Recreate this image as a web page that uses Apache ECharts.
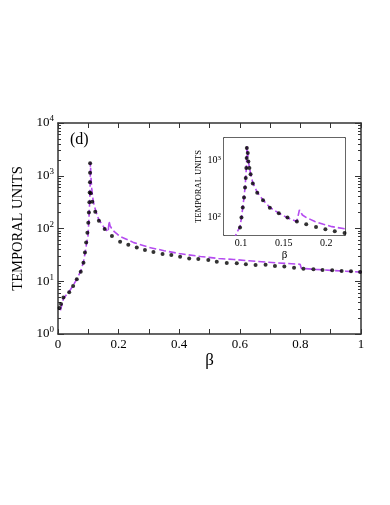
<!DOCTYPE html>
<html>
<head>
<meta charset="utf-8">
<script src="https://cdn.jsdelivr.net/npm/echarts@6.0.0/dist/echarts.min.js"></script>
<style>
  html, body { margin: 0; padding: 0; background: #fff; }
  #chart { width: 390px; height: 505px; }
</style>
</head>
<body>
<div id="chart"></div>
<script>
// simulation points (black dots), main panel
const mainDotsX = [0.005, 0.010, 0.018, 0.037, 0.050, 0.062, 0.075, 0.084, 0.089, 0.093, 0.097, 0.100, 0.102, 0.1035, 0.1045, 0.1055, 0.1058, 0.106, 0.108, 0.113, 0.123, 0.135, 0.154, 0.178, 0.205, 0.232, 0.26, 0.287, 0.315, 0.345, 0.374, 0.403, 0.433, 0.463, 0.496, 0.524, 0.557, 0.59, 0.62, 0.652, 0.685, 0.716, 0.747, 0.779, 0.81, 0.843, 0.873, 0.905, 0.936, 0.967, 0.997]
const mainDotsY = [3.1, 3.7, 4.9, 6.2, 8.1, 10.9, 15.2, 22.5, 35, 54, 83, 129, 200, 316, 480, 755, 1140, 1730, 465, 320, 208, 141, 98, 72, 56, 49, 43.5, 39, 36, 33, 31.5, 29, 27, 26.4, 25.3, 23.5, 22.3, 21.9, 21, 20.4, 20.5, 19.5, 19, 18.1, 17.3, 16.8, 16.3, 16.1, 15.6, 15.4, 15]

// simulation points, inset (zoom around the peak)
const insetDotsX = [0.0988, 0.1005, 0.102, 0.1035, 0.1047, 0.1055, 0.1062, 0.1066, 0.1068, 0.1079, 0.1086, 0.1098, 0.1112, 0.1138, 0.119, 0.1258, 0.1338, 0.1443, 0.1545, 0.1655, 0.1765, 0.188, 0.199, 0.21, 0.2215]
const insetDotsY = [68, 101, 151, 228, 341, 497, 744, 1115, 1670, 1365, 973, 744, 580, 400, 275, 203, 150, 120, 101, 86, 77, 69, 63, 58, 54]

// theory curve (purple dashed)
const lineX = [0.008, 0.018, 0.037, 0.05, 0.062, 0.075, 0.084, 0.09, 0.095, 0.0988, 0.1005, 0.102, 0.1035, 0.1047, 0.1055, 0.1062, 0.1067, 0.1069, 0.1076, 0.1086, 0.1098, 0.1115, 0.1138, 0.119, 0.1258, 0.1338, 0.1443, 0.1545, 0.1655, 0.1675, 0.1685, 0.172, 0.1767, 0.1867, 0.1967, 0.2067, 0.222, 0.25, 0.3, 0.35, 0.4, 0.47, 0.53, 0.58, 0.63, 0.69, 0.75, 0.799, 0.803, 0.85, 0.9, 0.95, 1.0]
const lineY = [2.8, 4.7, 6.4, 8.3, 11, 15.5, 23, 36, 55, 70, 101, 151, 228, 341, 497, 744, 1115, 1800, 1450, 1000, 760, 570, 410, 280, 205, 152, 121, 100, 86, 84, 138, 112, 101, 86, 77, 70, 64, 54, 44, 38, 33.5, 29.5, 27, 25.8, 24.5, 23, 21.8, 21, 17.6, 16.8, 16.1, 15.5, 14.9]

// tick positions / labels
const mainXLabels = [0, 0.2, 0.4, 0.6, 0.8, 1]
const mainXTicks = [0, 0.1, 0.2, 0.3, 0.4, 0.5, 0.6, 0.7, 0.8, 0.9, 1]
const mainYMajor = [1, 10, 100, 1000, 10000]
const insetXLabels = [0.1, 0.15, 0.2]
const insetYMajor = [100, 1000]

const zip = (xs, ys) => xs.map((x, i) => [x, ys[i]])

// 2..9 minor ticks of a log axis
function logMinor(lo, hi) {
  let out = []
  for (let d = 1; d < 1e5; d *= 10) {
    for (let k = 2; k <= 9; k++) {
      let v = k * d
      if (v > lo && v < hi) out.push(v)
    }
  }
  return out
}

const FONT = 'Liberation Serif'
const AXC = '#333'
const PURPLE = '#b54cf0'

const logLabel = v => '{b|10}{s|' + Math.round(Math.log10(v)) + '}'

function yAxes(grid, min, max, major, minor, majLen, minLen, labelOpt, nameOpt) {
  let base = { type: 'log', logBase: 10, gridIndex: grid, min: min, max: max, splitLine: { show: false } }
  return [
    Object.assign({}, base, nameOpt || {}, {
      position: 'left',
      axisLine: { show: true, lineStyle: { color: AXC, width: 1.5 } },
      axisTick: { inside: true, length: majLen, customValues: major, lineStyle: { color: AXC } },
      axisLabel: labelOpt
    }),
    Object.assign({}, base, {
      position: 'left',
      axisLine: { show: false },
      axisTick: { inside: true, length: minLen, customValues: minor, lineStyle: { color: AXC } },
      axisLabel: { show: false }
    }),
    Object.assign({}, base, {
      position: 'right',
      axisLine: { show: true, lineStyle: { color: AXC, width: 1.5 } },
      axisTick: { inside: true, length: majLen, customValues: major, lineStyle: { color: AXC } },
      axisLabel: { show: false }
    }),
    Object.assign({}, base, {
      position: 'right',
      axisLine: { show: false },
      axisTick: { inside: true, length: minLen, customValues: minor, lineStyle: { color: AXC } },
      axisLabel: { show: false }
    })
  ]
}

let option = {
  animation: false,
  backgroundColor: '#fff',
  textStyle: { fontFamily: FONT },
  grid: [
    { left: 58, top: 123, width: 303, height: 211 },
    { left: 224, top: 138, width: 121, height: 97, show: true, backgroundColor: '#fff', borderWidth: 0, z: 5 }
  ],
  xAxis: [
    {
      type: 'value', gridIndex: 0, position: 'bottom', min: 0, max: 1,
      name: 'β', nameLocation: 'middle', nameGap: 18,
      nameTextStyle: { fontFamily: FONT, fontSize: 17, color: '#000' },
      splitLine: { show: false },
      axisLine: { lineStyle: { color: AXC, width: 1.5 } },
      axisTick: { inside: true, length: 5, customValues: mainXTicks, lineStyle: { color: AXC } },
      axisLabel: {
        customValues: mainXLabels, margin: 4, fontFamily: FONT, fontSize: 13, color: '#000',
        formatter: v => (v === 0 || v === 1) ? String(v) : v.toFixed(1)
      }
    },
    {
      type: 'value', gridIndex: 0, position: 'top', min: 0, max: 1,
      splitLine: { show: false },
      axisLine: { lineStyle: { color: AXC, width: 1.5 } },
      axisTick: { inside: true, length: 5, customValues: mainXTicks, lineStyle: { color: AXC } },
      axisLabel: { show: false }
    },
    {
      type: 'value', gridIndex: 1, position: 'bottom', min: 0.08, max: 0.222,
      name: 'β', nameLocation: 'middle', nameGap: 15,
      nameTextStyle: { fontFamily: FONT, fontSize: 11, color: '#000' },
      splitLine: { show: false },
      axisLine: { lineStyle: { color: AXC, width: 1.5 } },
      axisTick: { inside: true, length: 4, customValues: insetXLabels, lineStyle: { color: AXC } },
      axisLabel: { customValues: insetXLabels, margin: 3, fontFamily: FONT, fontSize: 10, color: '#000' }
    },
    {
      type: 'value', gridIndex: 1, position: 'top', min: 0.08, max: 0.222,
      splitLine: { show: false },
      axisLine: { lineStyle: { color: AXC, width: 1.5 } },
      axisTick: { inside: true, length: 4, customValues: insetXLabels, lineStyle: { color: AXC } },
      axisLabel: { show: false }
    }
  ],
  yAxis: [].concat(
    yAxes(0, 1, 10000, mainYMajor, logMinor(1, 10000), 6, 3,
      {
        customValues: mainYMajor, margin: 4, color: '#000', formatter: logLabel,
        rich: {
          b: { fontFamily: FONT, fontSize: 13, color: '#000' },
          s: { fontFamily: FONT, fontSize: 9, color: '#000', padding: [0, 0, 8, 0] }
        }
      },
      {
        name: 'TEMPORAL UNITS', nameLocation: 'middle', nameGap: 26,
        nameTextStyle: { fontFamily: FONT, fontSize: 14.5, color: '#000' }
      }),
    yAxes(1, 50, 2500, insetYMajor, logMinor(50, 2500), 4, 2,
      {
        customValues: insetYMajor, margin: 3, color: '#000', formatter: logLabel,
        rich: {
          b: { fontFamily: FONT, fontSize: 10, color: '#000' },
          s: { fontFamily: FONT, fontSize: 7, color: '#000', padding: [0, 0, 6, 0] }
        }
      },
      {
        name: 'TEMPORAL UNITS', nameLocation: 'middle', nameGap: 13,
        nameTextStyle: { fontFamily: FONT, fontSize: 8.5, color: '#000' }
      })
  ),
  series: [
    {
      type: 'line', xAxisIndex: 0, yAxisIndex: 0, data: zip(lineX, lineY),
      showSymbol: false, z: 2,
      lineStyle: { color: PURPLE, width: 1.6, type: [7, 3] }
    },
    {
      type: 'scatter', xAxisIndex: 0, yAxisIndex: 0, data: zip(mainDotsX, mainDotsY),
      symbol: 'circle', symbolSize: 4, z: 3,
      itemStyle: { color: '#000' }
    },
    {
      type: 'line', xAxisIndex: 2, yAxisIndex: 4, data: zip(lineX, lineY),
      showSymbol: false, z: 6, clip: true,
      lineStyle: { color: PURPLE, width: 1.6, type: [7, 3] }
    },
    {
      type: 'scatter', xAxisIndex: 2, yAxisIndex: 4, data: zip(insetDotsX, insetDotsY),
      symbol: 'circle', symbolSize: 4, z: 7, clip: true,
      itemStyle: { color: '#000' }
    }
  ],
  graphic: [
    {
      type: 'text', left: 70, top: 132,
      style: { text: '(d)', fontFamily: FONT, fontSize: 16, fill: '#000' }
    }
  ]
}

let chart = echarts.init(document.getElementById('chart'))
chart.setOption(option)
</script>
</body>
</html>
